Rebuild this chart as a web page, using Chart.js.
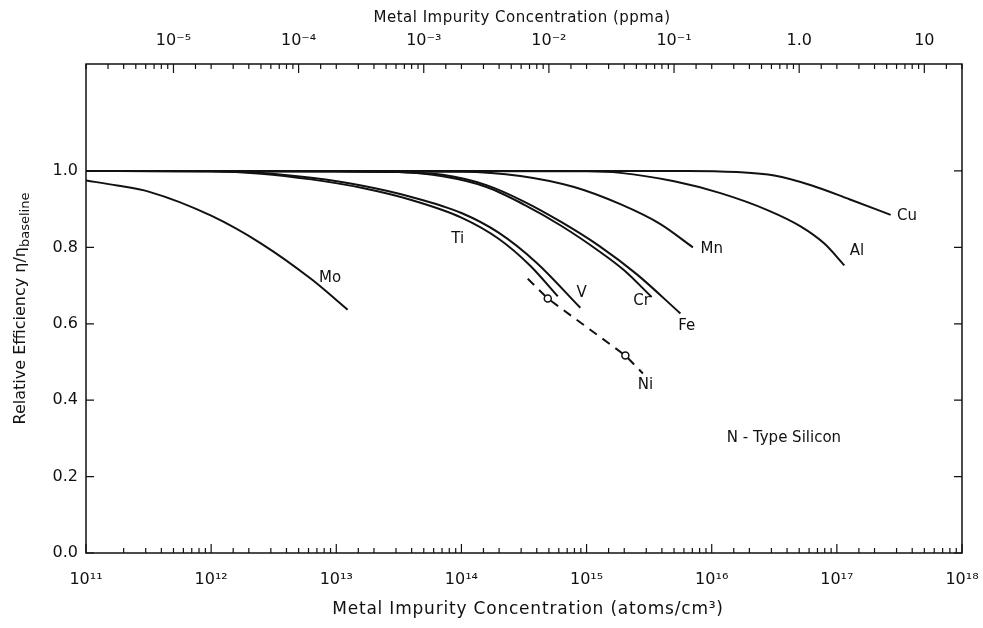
<!DOCTYPE html>
<html>
<head>
<meta charset="utf-8">
<script src="https://cdn.jsdelivr.net/npm/chart.js@4.4.1/dist/chart.umd.min.js"></script>
<style>
  html, body { margin: 0; padding: 0; background: #fff; }
  #wrap { width: 983px; height: 628px; }
</style>
</head>
<body>
<div id="wrap"><canvas id="effChart" width="983" height="628"></canvas></div>
<script>
// concentrations are given as log10(atoms/cm3), efficiencies as eta/eta_baseline
const moLog = [11, 11.25, 11.5, 12, 12.4, 12.8, 13.09];
const moEff = [0.975, 0.962, 0.946, 0.883, 0.81, 0.717, 0.637];

const tiLog = [11, 12, 12.4, 12.8, 13.2, 13.6, 14.0, 14.3, 14.55, 14.77];
const tiEff = [1.0, 0.999, 0.993, 0.978, 0.956, 0.924, 0.878, 0.822, 0.752, 0.672];

const vLog = [11, 12, 12.4, 12.8, 13.2, 13.6, 14.0, 14.3, 14.6, 14.95];
const vEff = [1.0, 0.999, 0.995, 0.982, 0.962, 0.932, 0.89, 0.838, 0.76, 0.642];

const crLog = [11, 13, 13.5, 13.85, 14.2, 14.5, 14.8, 15.1, 15.3, 15.52];
const crEff = [1.0, 0.999, 0.997, 0.986, 0.958, 0.912, 0.856, 0.79, 0.74, 0.67];

const feLog = [11, 13, 13.5, 13.85, 14.2, 14.5, 14.8, 15.1, 15.4, 15.75];
const feEff = [1.0, 0.999, 0.997, 0.99, 0.963, 0.92, 0.866, 0.804, 0.73, 0.627];

const niLog = [14.53, 14.69, 15.31, 15.45];
const niEff = [0.718, 0.666, 0.517, 0.47];
const niMarks = [0, 3.5, 3.5, 0];

const mnLog = [11, 14, 14.47, 14.9, 15.27, 15.59, 15.85];
const mnEff = [1.0, 0.998, 0.987, 0.958, 0.913, 0.861, 0.80];

const alLog = [11, 15, 15.27, 15.7, 16.07, 16.45, 16.71, 16.9, 17.06];
const alEff = [1.0, 0.999, 0.995, 0.973, 0.942, 0.897, 0.855, 0.81, 0.753];

const cuLog = [11, 15.8, 16.2, 16.5, 16.8, 17.1, 17.43];
const cuEff = [1.0, 1.0, 0.997, 0.988, 0.962, 0.926, 0.885];

const yTicks = [0, 0.2, 0.4, 0.6, 0.8, 1.0];
const ppmaLabels = { "-5": "10\u207B\u2075", "-4": "10\u207B\u2074", "-3": "10\u207B\u00B3",
  "-2": "10\u207B\u00B2", "-1": "10\u207B\u00B9", "0": "1.0", "1": "10" };

// curve labels: [text, log10 conc, efficiency]
const curveLabels = [
  ["Mo", 12.95, 0.72], ["Ti", 13.97, 0.822], ["V", 14.96, 0.679],
  ["Cr", 15.44, 0.66], ["Fe", 15.8, 0.595], ["Ni", 15.47, 0.439],
  ["Mn", 16.0, 0.796], ["Al", 17.16, 0.791], ["Cu", 17.56, 0.883]
];

const FONT = "'DejaVu Sans', 'Liberation Sans', sans-serif";
const INK = "#111";
const ATOMS_PER_PPMA = 5e16;

function toPoints(logs, effs) {
  return logs.map((l, i) => ({ x: Math.pow(10, l), y: effs[i] }));
}

const supDigits = { "0": "\u2070", "1": "\u00B9", "2": "\u00B2", "3": "\u00B3", "4": "\u2074",
  "5": "\u2075", "6": "\u2076", "7": "\u2077", "8": "\u2078", "9": "\u2079" };
function sup(n) {
  return String(n).split("").map((c) => supDigits[c]).join("");
}
function isPow10(v) {
  const l = Math.log10(v);
  return Math.abs(l - Math.round(l)) < 1e-6;
}

function line(data, extra) {
  return Object.assign({
    data: data,
    borderColor: INK,
    borderWidth: 2,
    pointRadius: 0,
    fill: false,
    cubicInterpolationMode: "monotone",
  }, extra || {});
}

// keep the plot box fixed no matter how wide the end labels are
function fixX(height) {
  return (s) => {
    s.height = height;
    s.paddingLeft = 0;
    s.paddingRight = 0;
  };
}

// inward ticks, frame, titles and free text
const decorations = {
  id: "decorations",
  afterDraw(chart) {
    const ctx = chart.ctx;
    const a = chart.chartArea;
    const xs = chart.scales.x, x2 = chart.scales.x2, ys = chart.scales.y;
    const midX = (a.left + a.right) / 2;
    ctx.save();
    ctx.strokeStyle = INK;
    ctx.lineWidth = 1.5;
    ctx.strokeRect(a.left, a.top, a.right - a.left, a.bottom - a.top);
    ctx.lineWidth = 1.2;
    ctx.beginPath();
    xs.ticks.forEach((t) => {
      const px = xs.getPixelForValue(t.value);
      const len = isPow10(t.value) ? 9 : 5;
      ctx.moveTo(px, a.bottom);
      ctx.lineTo(px, a.bottom - len);
    });
    x2.ticks.forEach((t) => {
      const px = x2.getPixelForValue(t.value);
      const len = isPow10(t.value) ? 9 : 5;
      ctx.moveTo(px, a.top);
      ctx.lineTo(px, a.top + len);
    });
    yTicks.forEach((v) => {
      const py = ys.getPixelForValue(v);
      ctx.moveTo(a.left, py);
      ctx.lineTo(a.left + 8, py);
      ctx.moveTo(a.right, py);
      ctx.lineTo(a.right - 8, py);
    });
    ctx.stroke();

    ctx.fillStyle = INK;
    ctx.textBaseline = "middle";

    // curve labels
    ctx.font = "15px " + FONT;
    ctx.textAlign = "center";
    curveLabels.forEach(([txt, l, e]) => {
      ctx.fillText(txt, xs.getPixelForValue(Math.pow(10, l)), ys.getPixelForValue(e));
    });
    ctx.textAlign = "left";
    ctx.fillText("N - Type Silicon", xs.getPixelForValue(Math.pow(10, 16.12)), ys.getPixelForValue(0.30));

    // axis titles
    ctx.textAlign = "center";
    ctx.font = "15px " + FONT;
    ctx.letterSpacing = "0.5px";
    ctx.fillText("Metal Impurity Concentration (ppma)", midX - 2, 18);
    ctx.font = "17px " + FONT;
    ctx.letterSpacing = "0.8px";
    ctx.fillText("Metal Impurity Concentration (atoms/cm\u00B3)", midX + 4, 610);
    ctx.letterSpacing = "0px";

    // y title with subscript
    const main = "Relative Efficiency \u03B7/\u03B7";
    const sub = "baseline";
    ctx.textAlign = "left";
    ctx.font = "16px " + FONT;
    const wMain = ctx.measureText(main).width;
    ctx.font = "13px " + FONT;
    const wSub = ctx.measureText(sub).width;
    const total = wMain + wSub;
    ctx.translate(21, (a.top + a.bottom) / 2);
    ctx.rotate(-Math.PI / 2);
    ctx.font = "16px " + FONT;
    ctx.fillText(main, -total / 2, 0);
    ctx.font = "13px " + FONT;
    ctx.fillText(sub, -total / 2 + wMain, 5);
    ctx.restore();
  },
};

const ctx = document.getElementById("effChart").getContext("2d");
new Chart(ctx, {
  type: "line",
  data: {
    datasets: [
      line(toPoints(moLog, moEff)),
      line(toPoints(tiLog, tiEff)),
      line(toPoints(vLog, vEff)),
      line(toPoints(crLog, crEff)),
      line(toPoints(feLog, feEff)),
      line(toPoints(mnLog, mnEff)),
      line(toPoints(alLog, alEff)),
      line(toPoints(cuLog, cuEff)),
      line(toPoints(niLog, niEff), {
        borderDash: [9, 7],
        pointRadius: niMarks,
        pointBackgroundColor: "#fff",
        pointBorderColor: INK,
        pointBorderWidth: 1.5,
        cubicInterpolationMode: "default",
        tension: 0,
      }),
    ],
  },
  options: {
    responsive: false,
    animation: false,
    layout: { padding: { left: 0, right: 21, top: 0, bottom: 0 } },
    plugins: {
      legend: { display: false },
      tooltip: { enabled: false },
    },
    scales: {
      x: {
        type: "logarithmic",
        position: "bottom",
        min: 1e11,
        max: 1e18,
        grid: { display: false },
        border: { display: false },
        ticks: {
          autoSkip: false,
          maxRotation: 0,
          padding: 9,
          color: INK,
          font: { family: FONT, size: 16 },
          callback: (v) => (isPow10(v) ? "10" + sup(Math.round(Math.log10(v))) : ""),
        },
        afterFit: fixX(75),
      },
      x2: {
        type: "logarithmic",
        position: "top",
        min: 1e11 / ATOMS_PER_PPMA,
        max: 1e18 / ATOMS_PER_PPMA,
        grid: { display: false },
        border: { display: false },
        ticks: {
          autoSkip: false,
          maxRotation: 0,
          padding: 6,
          color: INK,
          font: { family: FONT, size: 16 },
          callback: (v) => (isPow10(v) ? ppmaLabels[String(Math.round(Math.log10(v)))] || "" : ""),
        },
        afterFit: fixX(64),
      },
      y: {
        min: 0,
        max: 1.28,
        grid: { display: false },
        border: { display: false },
        afterBuildTicks: (s) => { s.ticks = yTicks.map((v) => ({ value: v })); },
        ticks: {
          padding: 0,
          color: INK,
          font: { family: FONT, size: 16 },
          callback: (v) => Number(v).toFixed(1),
        },
        afterFit: (s) => { s.width = 86; },
      },
    },
  },
  plugins: [decorations],
});
</script>
</body>
</html>
